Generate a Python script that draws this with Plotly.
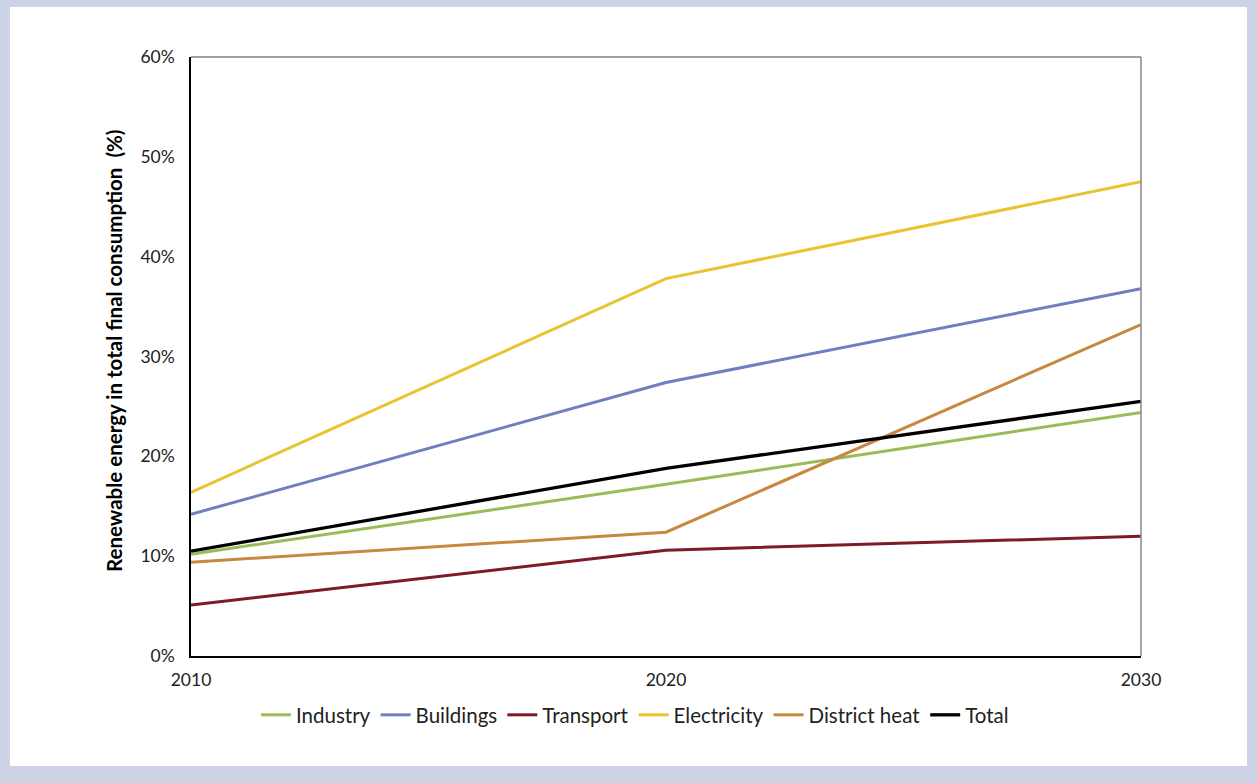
import plotly.graph_objects as go

years = [2010, 2020, 2030]
industry = [10.2, 17.2, 24.4]
buildings = [14.2, 27.4, 36.8]
transport = [5.1, 10.6, 12.0]
electricity = [16.4, 37.8, 47.5]
district_heat = [9.4, 12.4, 33.2]
total = [10.5, 18.8, 25.5]

y_ticks = [0, 10, 20, 30, 40, 50, 60]
y_tick_text = ["0%", "10%", "20%", "30%", "40%", "50%", "60%"]

series = [
    ("Industry", industry, "#9BBB59"),
    ("Buildings", buildings, "#6F7FC0"),
    ("Transport", transport, "#7D1A28"),
    ("Electricity", electricity, "#E9C431"),
    ("District heat", district_heat, "#C98840"),
    ("Total", total, "#000000"),
]

W, H = 1257, 783
L, R, T, B = 191, 116, 57, 127
pw, ph = W - L - R, H - T - B

def px_x(p):
    return (p - L) / pw

def px_y(p):
    return (H - B - p) / ph

font_family = "Lato, 'Open Sans', sans-serif"

fig = go.Figure()
for name, vals, color in series:
    fig.add_trace(go.Scatter(
        x=years, y=vals, name=name, mode="lines",
        line=dict(color=color, width=3.3 if name == "Total" else 3.0),
    ))

fig.update_layout(
    width=W, height=H,
    margin=dict(l=L, r=R, t=T, b=B, pad=0),
    paper_bgcolor="#CDD3E6",
    plot_bgcolor="white",
    font=dict(family=font_family, size=18, color="#222222"),
    showlegend=True,
    legend=dict(
        orientation="h", x=px_x(635), xanchor="center",
        y=px_y(715), yanchor="middle",
        font=dict(size=20.5, color="#222222"),
        itemwidth=30, tracegroupgap=0, bgcolor="rgba(0,0,0,0)",
    ),
    shapes=[
        # white panel behind the chart
        dict(type="rect", xref="paper", yref="paper", layer="below",
             x0=px_x(10), x1=px_x(1247), y0=px_y(766), y1=px_y(7),
             fillcolor="white", line=dict(width=0)),
        # top and right frame edges
        dict(type="line", xref="paper", yref="paper", x0=0, x1=1, y0=1, y1=1,
             line=dict(color="#444444", width=1.2)),
        dict(type="line", xref="paper", yref="paper", x0=1, x1=1, y0=0, y1=1,
             line=dict(color="#888888", width=1.5)),
    ],
    annotations=[
        dict(text="<b>Renewable energy in total final consumption  (%)</b>",
             xref="paper", yref="paper", x=px_x(114), y=px_y(351),
             xanchor="center", yanchor="middle", textangle=-90,
             showarrow=False, font=dict(size=20.5, color="#000000")),
    ],
)

fig.update_xaxes(
    range=[2010, 2030], tickvals=years, ticktext=[str(y) for y in years],
    showgrid=False, zeroline=False, showline=True, linecolor="#000000",
    linewidth=1.5, ticks="", ticklabelstandoff=7,
    tickfont=dict(size=17.5, color="#222222"),
)
fig.update_yaxes(
    range=[0, 60], tickvals=y_ticks, ticktext=y_tick_text,
    showgrid=False, zeroline=False, showline=True, linecolor="#000000",
    linewidth=1.5, ticks="", ticklabelstandoff=11,
    tickfont=dict(size=17.5, color="#222222"),
)

fig.write_html("out.html")
